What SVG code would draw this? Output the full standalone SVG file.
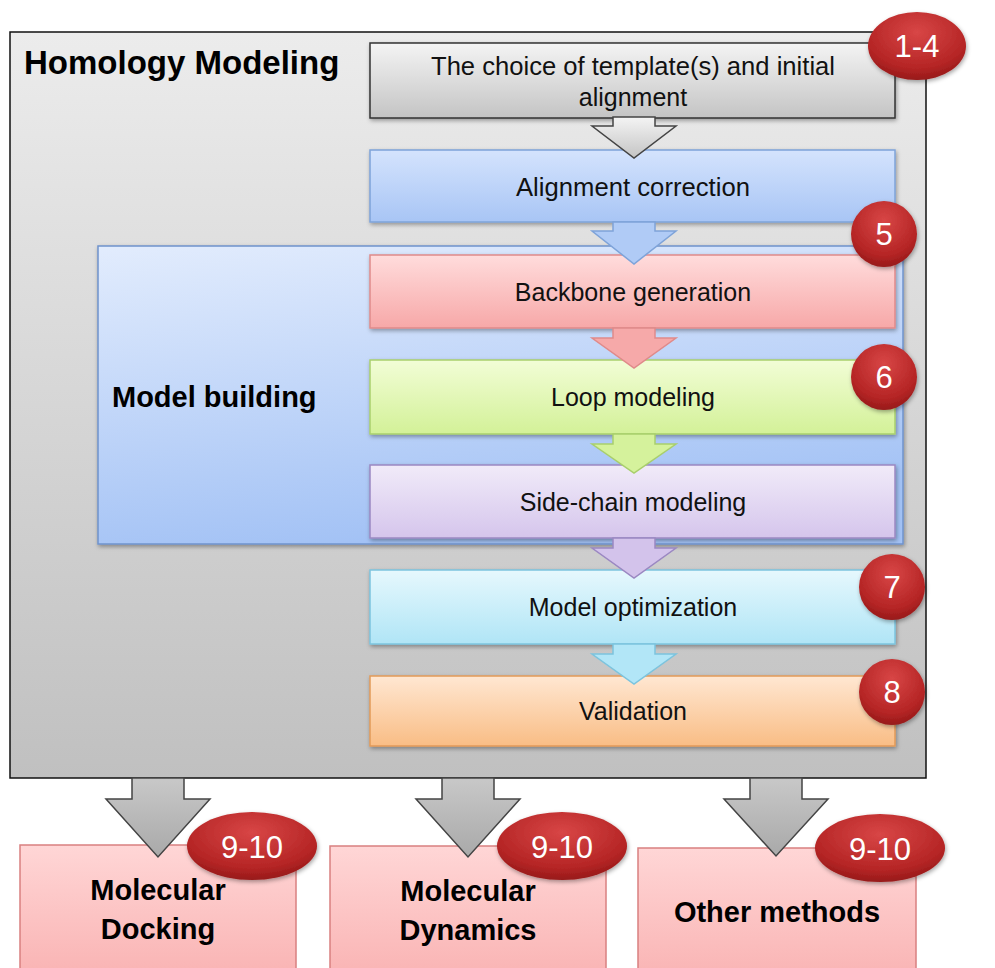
<svg xmlns="http://www.w3.org/2000/svg" width="995" height="968" viewBox="0 0 995 968">
<defs>
<linearGradient id="gOuter" x1="0" y1="0" x2="0" y2="1"><stop offset="0" stop-color="#ececec"/><stop offset="1" stop-color="#c0c0c0"/></linearGradient>
<linearGradient id="gTop" x1="0" y1="0" x2="0" y2="1"><stop offset="0" stop-color="#f4f4f4"/><stop offset="1" stop-color="#c4c4c4"/></linearGradient>
<linearGradient id="gBlue" x1="0" y1="0" x2="0" y2="1"><stop offset="0" stop-color="#d4e3fd"/><stop offset="1" stop-color="#a8c5f5"/></linearGradient>
<linearGradient id="gMB" x1="0" y1="0" x2="0.3" y2="1"><stop offset="0" stop-color="#e2ecfd"/><stop offset="1" stop-color="#a3c2f5"/></linearGradient>
<linearGradient id="gPink" x1="0" y1="0" x2="0" y2="1"><stop offset="0" stop-color="#ffdcdc"/><stop offset="1" stop-color="#f7a8a8"/></linearGradient>
<linearGradient id="gGreen" x1="0" y1="0" x2="0" y2="1"><stop offset="0" stop-color="#f2fdd6"/><stop offset="1" stop-color="#d3f198"/></linearGradient>
<linearGradient id="gLav" x1="0" y1="0" x2="0" y2="1"><stop offset="0" stop-color="#f1ebf9"/><stop offset="1" stop-color="#d5c5ec"/></linearGradient>
<linearGradient id="gCyan" x1="0" y1="0" x2="0" y2="1"><stop offset="0" stop-color="#e6f8fd"/><stop offset="1" stop-color="#b0e5f6"/></linearGradient>
<linearGradient id="gOrange" x1="0" y1="0" x2="0" y2="1"><stop offset="0" stop-color="#ffe7d2"/><stop offset="1" stop-color="#f9bd85"/></linearGradient>
<linearGradient id="gBottom" x1="0" y1="0" x2="0" y2="1"><stop offset="0" stop-color="#ffd6d6"/><stop offset="1" stop-color="#f9b1b1"/></linearGradient>
<linearGradient id="gGrayArrow" x1="0" y1="0" x2="0" y2="1"><stop offset="0" stop-color="#c8c8c8"/><stop offset="1" stop-color="#a9a9a9"/></linearGradient>
<radialGradient id="gBadge" cx="0.5" cy="0.3" r="0.75"><stop offset="0" stop-color="#d84646"/><stop offset="0.7" stop-color="#b52525"/><stop offset="1" stop-color="#8e1616"/></radialGradient>
<filter id="sh" x="-10%" y="-10%" width="130%" height="140%"><feDropShadow dx="1" dy="2" stdDeviation="2" flood-color="#000" flood-opacity="0.35"/></filter>
</defs>
<style>
.box{stroke-width:1.5}
.t{font-family:"Liberation Sans",Arial,sans-serif;font-size:25px;fill:#111;text-anchor:middle}
.tb{font-family:"Liberation Sans",Arial,sans-serif;font-weight:bold;fill:#000}
.bt{font-family:"Liberation Sans",Arial,sans-serif;fill:#fff;text-anchor:middle}
.badge{fill:url(#gBadge);filter:url(#sh)}
</style>

<g id="homology-modeling">
<rect x="10" y="32" width="916" height="746" fill="url(#gOuter)" stroke="#111" stroke-width="1.5"/>
<text class="tb" x="24" y="74" font-size="33">Homology Modeling</text>
</g>

<g id="template-choice">
<rect class="box" x="370" y="43" width="525" height="75" fill="url(#gTop)" stroke="#333" filter="url(#sh)"/>
<text class="t" x="633" y="75" textLength="404" lengthAdjust="spacingAndGlyphs">The choice of template(s) and initial</text>
<text class="t" x="633" y="106">alignment</text>
</g>

<g id="alignment-correction">
<rect class="box" x="370" y="150" width="525" height="72" fill="url(#gBlue)" stroke="#7ea3d9" filter="url(#sh)"/>
<text class="t" x="633" y="196" textLength="234" lengthAdjust="spacingAndGlyphs">Alignment correction</text>
</g>

<g id="model-building">
<rect x="98" y="246" width="805" height="298" fill="url(#gMB)" stroke="#6f93cc" stroke-width="1.5" filter="url(#sh)"/>
<text class="tb" x="112" y="407" font-size="29">Model building</text>
</g>

<g id="backbone-generation">
<rect class="box" x="370" y="255" width="525" height="73" fill="url(#gPink)" stroke="#e08a8a" filter="url(#sh)"/>
<text class="t" x="633" y="301">Backbone generation</text>
</g>

<g id="loop-modeling">
<rect class="box" x="370" y="360" width="525" height="74" fill="url(#gGreen)" stroke="#a9cf6c" filter="url(#sh)"/>
<text class="t" x="633" y="406">Loop modeling</text>
</g>

<g id="side-chain-modeling">
<rect class="box" x="370" y="465" width="525" height="73" fill="url(#gLav)" stroke="#9b88c2" filter="url(#sh)"/>
<text class="t" x="633" y="511">Side-chain modeling</text>
</g>

<g id="model-optimization">
<rect class="box" x="370" y="570" width="525" height="74" fill="url(#gCyan)" stroke="#7cc4de" filter="url(#sh)"/>
<text class="t" x="633" y="616">Model optimization</text>
</g>

<g id="validation">
<rect class="box" x="370" y="676" width="525" height="70" fill="url(#gOrange)" stroke="#e29a58" filter="url(#sh)"/>
<text class="t" x="633" y="720">Validation</text>
</g>

<g id="molecular-docking">
<rect x="20" y="845" width="276" height="140" fill="url(#gBottom)" stroke="#d98080" stroke-width="1.5"/>
<text class="tb" x="158" y="900" font-size="29" text-anchor="middle">Molecular</text>
<text class="tb" x="158" y="939" font-size="29" text-anchor="middle">Docking</text>
</g>

<g id="molecular-dynamics">
<rect x="330" y="846" width="276" height="140" fill="url(#gBottom)" stroke="#d98080" stroke-width="1.5"/>
<text class="tb" x="468" y="901" font-size="29" text-anchor="middle">Molecular</text>
<text class="tb" x="468" y="940" font-size="29" text-anchor="middle">Dynamics</text>
</g>

<g id="other-methods">
<rect x="638" y="848" width="278" height="140" fill="url(#gBottom)" stroke="#d98080" stroke-width="1.5"/>
<text class="tb" x="777" y="922" font-size="29" text-anchor="middle">Other methods</text>
</g>

<g id="connectors" stroke-width="1.5" stroke-linejoin="miter">
<path d="M613,117 L655,117 L655,126 L676,126 L634,158 L592,126 L613,126 Z" fill="url(#gTop)" stroke="#444"/>
<path d="M613,222 L655,222 L655,231 L676,231 L634,264 L592,231 L613,231 Z" fill="#b0cbf6" stroke="#7ea3d9"/>
<path d="M613,328 L655,328 L655,338 L676,338 L634,368 L592,338 L613,338 Z" fill="#f6a9a9" stroke="#e08a8a"/>
<path d="M613,434 L655,434 L655,444 L676,444 L634,473 L592,444 L613,444 Z" fill="#d5f29c" stroke="#a9cf6c"/>
<path d="M613,538 L655,538 L655,548 L676,548 L634,578 L592,548 L613,548 Z" fill="#d3c3eb" stroke="#9b88c2"/>
<path d="M613,644 L655,644 L655,654 L676,654 L634,684 L592,654 L613,654 Z" fill="#b2e6f7" stroke="#7cc4de"/>
<path d="M132,778 L184,778 L184,799 L210,799 L158,857 L106,799 L132,799 Z" fill="url(#gGrayArrow)" stroke="#444"/>
<path d="M442,778 L494,778 L494,799 L520,799 L468,857 L416,799 L442,799 Z" fill="url(#gGrayArrow)" stroke="#444"/>
<path d="M750,778 L802,778 L802,799 L828,799 L776,856 L724,799 L750,799 Z" fill="url(#gGrayArrow)" stroke="#444"/>
</g>

<g id="badge-1-4"><ellipse class="badge" cx="917" cy="46" rx="49" ry="34"/><text class="bt" x="917" y="57" font-size="31">1-4</text></g>
<g id="badge-5"><circle class="badge" cx="884" cy="234" r="33"/><text class="bt" x="884" y="245" font-size="31">5</text></g>
<g id="badge-6"><circle class="badge" cx="884" cy="377" r="33"/><text class="bt" x="884" y="388" font-size="31">6</text></g>
<g id="badge-7"><circle class="badge" cx="892" cy="587" r="33"/><text class="bt" x="892" y="598" font-size="31">7</text></g>
<g id="badge-8"><circle class="badge" cx="892" cy="692" r="33"/><text class="bt" x="892" y="703" font-size="31">8</text></g>
<g id="badge-9-10-a"><ellipse class="badge" cx="252" cy="846" rx="65" ry="34"/><text class="bt" x="252" y="858" font-size="31">9-10</text></g>
<g id="badge-9-10-b"><ellipse class="badge" cx="562" cy="846" rx="65" ry="34"/><text class="bt" x="562" y="858" font-size="31">9-10</text></g>
<g id="badge-9-10-c"><ellipse class="badge" cx="880" cy="848" rx="65" ry="34"/><text class="bt" x="880" y="860" font-size="31">9-10</text></g>
</svg>
